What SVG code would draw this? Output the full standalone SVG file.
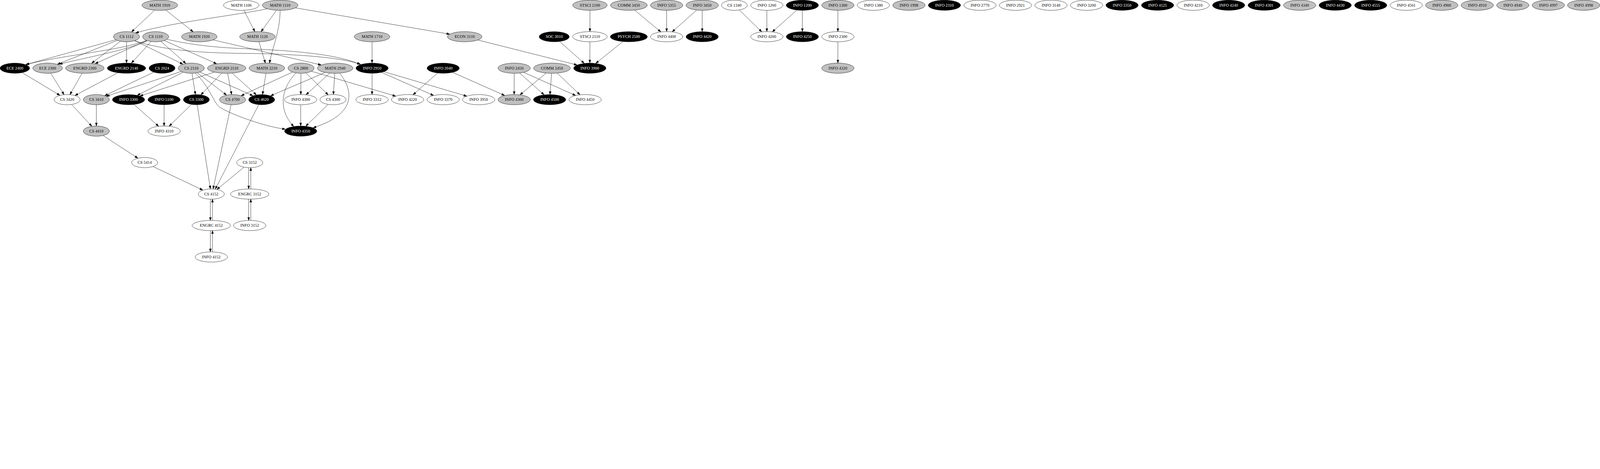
<svg xmlns="http://www.w3.org/2000/svg" width="7327" height="1200" viewBox="0 0 7327 1200" style="max-width:100vw;height:auto">
<defs>
<style>
.n ellipse{stroke:#000;stroke-width:1.33}
.g ellipse{fill:#c0c0c0}
.b ellipse{fill:#000}
.w ellipse{fill:#fff}
.n text{font-family:"Liberation Serif","Times New Roman",serif;font-size:18.67px;text-anchor:middle;fill:#000}
.b text{fill:#fff}
#edges path{fill:none;stroke:#000;stroke-width:1.33;marker-end:url(#ah)}
</style>
<marker id="ah" markerUnits="userSpaceOnUse" markerWidth="14" markerHeight="10" viewBox="0 0 14 10" refX="13.3" refY="4.67" orient="auto" overflow="visible">
<path d="M0,0 L13.3,4.67 L0,9.33 z" fill="#000" stroke="#000" stroke-width="1.33"/>
</marker>
</defs>
<rect width="7327" height="1200" fill="#fff"/>
<g id="edges">
<path d="M707.5,46.9 L602.8,145.9"/>
<path d="M760,46.5 L884.3,145.5"/>
<path d="M1223,40.5 C1080,70 800,100 621,150.5"/>
<path d="M1265.8,47.5 L1195.9,144.5"/>
<path d="M1117.2,47.7 L1166.8,144.3"/>
<path d="M1282.7,48 C1282,150 1245,220 1234.5,288.5"/>
<path d="M1353.3,36 L2059.1,156.3"/>
<path d="M1186.1,191.9 L1214.9,288.1"/>
<path d="M976.7,182.8 L1470.6,297.2"/>
<path d="M1703.8,192 L1703.8,288"/>
<path d="M2188.9,183.3 L2642.6,297.4"/>
<path d="M530.6,181.7 L117,296"/>
<path d="M537,184.9 L263,294.1"/>
<path d="M551.3,189.2 L420,289"/>
<path d="M579.4,192 L579.4,288"/>
<path d="M617.4,186.5 L837.5,293.5"/>
<path d="M617.3,186.5 C720,222 880,242 1100,244 C1350,246 1560,262 1651,294"/>
<path d="M670,185 C560,230 300,250 120,295"/>
<path d="M673,187.5 C580,230 400,262 272,293.5"/>
<path d="M672.7,185.8 L436,291"/>
<path d="M691.9,190.5 L602,288.5"/>
<path d="M737.4,189.8 L850.8,290.2"/>
<path d="M752.8,185.8 L991.8,291.6"/>
<path d="M765,180 C900,210 1000,218 1150,224 C1400,234 1560,255 1649,295"/>
<path d="M101.9,332.7 L274.1,436.1"/>
<path d="M232.5,335.4 L292.9,432.7"/>
<path d="M375.2,335.7 L320.5,432.6"/>
<path d="M539.1,333.3 L343.4,436.9"/>
<path d="M703.6,330.4 L479.6,437.6"/>
<path d="M829.5,327.3 L487.2,440.7"/>
<path d="M838.2,330.7 L628.7,435.9"/>
<path d="M981,330.3 L641.1,439.2"/>
<path d="M879.3,336 L894.8,432"/>
<path d="M1015.5,335.2 L920.2,433.6"/>
<path d="M903.4,333.2 L1037.1,434.8"/>
<path d="M1042.5,336 L1060.5,432.1"/>
<path d="M915.4,329.8 L1158.3,438.2"/>
<path d="M1063.6,335 L1173.8,434.1"/>
<path d="M1218,336 L1202.2,432.1"/>
<path d="M1339.3,330 L1104.3,438"/>
<path d="M1488.5,331.8 L1239.1,438.5"/>
<path d="M1378,336 L1377.5,432"/>
<path d="M1401.2,334.2 L1502.4,433.8"/>
<path d="M1426.6,326.2 L1811.8,439.9"/>
<path d="M1509.7,334.8 L1401.6,433.4"/>
<path d="M1533.1,336 L1526.6,432"/>
<path d="M1355,334.5 C1290,400 1270,500 1345,578.5"/>
<path d="M1556,335.7 C1615,410 1640,520 1434,584.5"/>
<path d="M894,335 C955,390 975,460 1000,485 C1025,510 1200,578 1306.5,591"/>
<path d="M1377,480 L1377,576"/>
<path d="M1502.2,478.2 L1400.2,577.2"/>
<path d="M1703.8,336 L1703.8,432"/>
<path d="M1747.6,331.3 L1985.4,436.7"/>
<path d="M1758.5,328.1 L2137.2,439.9"/>
<path d="M2003.6,334.5 L1891.7,433.5"/>
<path d="M2072.7,331.3 L2310.9,436.7"/>
<path d="M328.2,478.5 L420.3,577.5"/>
<path d="M441.2,480 L441.2,576"/>
<path d="M614.1,478.5 L726,577.5"/>
<path d="M751.4,480 L751.4,576"/>
<path d="M875.9,478.2 L774.8,577.2"/>
<path d="M472.6,620.4 L631,723.6"/>
<path d="M701.1,762.3 L928.6,869.7"/>
<path d="M903,480 L963.5,864"/>
<path d="M1058,479.6 L976,864.3"/>
<path d="M1184,480.8 L986,865"/>
<path d="M1117,765.5 L993.6,866.5"/>
<path d="M963.4,911.8 L963.4,1008.2"/>
<path d="M973,1008.2 L973,911.8"/>
<path d="M963.4,1055.8 L963.4,1152.2"/>
<path d="M973,1152.2 L973,1055.8"/>
<path d="M1138.8,767.8 L1138.8,864.2"/>
<path d="M1148.4,864.2 L1148.4,767.8"/>
<path d="M1138.8,911.8 L1138.8,1008.2"/>
<path d="M1148.4,1008.2 L1148.4,911.8"/>
<path d="M2701.5,48 L2701.5,144"/>
<path d="M2907,46.7 L3025.9,145.7"/>
<path d="M3052.8,48 L3052.8,144"/>
<path d="M3190.1,46.5 L3078.3,145.5"/>
<path d="M3215.6,48 L3215.6,144"/>
<path d="M2563.3,190.3 L2675.3,289.5"/>
<path d="M2701.5,192 L2701,288"/>
<path d="M2851.6,190.7 L2728.4,289.8"/>
<path d="M2354.6,336 L2354.6,432"/>
<path d="M2380,334.5 L2491.3,433.5"/>
<path d="M2398.2,331.3 L2635.9,436.7"/>
<path d="M2500.4,334.7 L2381.5,433.7"/>
<path d="M2525.9,336 L2518.5,432"/>
<path d="M2551.9,335 L2655.6,433.3"/>
<path d="M3385.8,46.1 L3488.2,145.3"/>
<path d="M3511.7,48 L3511.7,144"/>
<path d="M3648.9,46.5 L3537.1,145.5"/>
<path d="M3674.3,48 L3674.3,144"/>
<path d="M3837,48 L3837,144"/>
<path d="M3837,192 L3837,288"/>
</g>
<g id="n-math1910" class="n g"><ellipse cx="731.7" cy="24" rx="81.5" ry="23.3"/><text x="731.7" y="30">MATH 1910</text></g>
<g id="n-math1106" class="n w"><ellipse cx="1105" cy="24" rx="81.5" ry="23.3"/><text x="1105" y="30">MATH 1106</text></g>
<g id="n-math1110" class="n g"><ellipse cx="1282.7" cy="24" rx="81.5" ry="23.3"/><text x="1282.7" y="30">MATH 1110</text></g>
<g id="n-stsci2100" class="n g"><ellipse cx="2701.5" cy="24" rx="79" ry="23.3"/><text x="2701.5" y="30">STSCI 2100</text></g>
<g id="n-comm3450" class="n g"><ellipse cx="2879.7" cy="24" rx="84.3" ry="23.3"/><text x="2879.7" y="30">COMM 3450</text></g>
<g id="n-info5355" class="n g"><ellipse cx="3052.8" cy="24" rx="74" ry="23.3"/><text x="3052.8" y="30">INFO 5355</text></g>
<g id="n-info3450" class="n g"><ellipse cx="3215.6" cy="24" rx="74" ry="23.3"/><text x="3215.6" y="30">INFO 3450</text></g>
<g id="n-cs1340" class="n w"><ellipse cx="3363" cy="24" rx="59" ry="23.3"/><text x="3363" y="30">CS 1340</text></g>
<g id="n-info1260" class="n w"><ellipse cx="3511.7" cy="24" rx="74" ry="23.3"/><text x="3511.7" y="30">INFO 1260</text></g>
<g id="n-info1200" class="n b"><ellipse cx="3674.3" cy="24" rx="74" ry="23.3"/><text x="3674.3" y="30">INFO 1200</text></g>
<g id="n-info1300" class="n g"><ellipse cx="3837" cy="24" rx="74" ry="23.3"/><text x="3837" y="30">INFO 1300</text></g>
<g id="n-info1380" class="n w"><ellipse cx="3999.7" cy="24" rx="74" ry="23.3"/><text x="3999.7" y="30">INFO 1380</text></g>
<g id="n-info1998" class="n g"><ellipse cx="4162.3" cy="24" rx="74" ry="23.3"/><text x="4162.3" y="30">INFO 1998</text></g>
<g id="n-info2310" class="n b"><ellipse cx="4325" cy="24" rx="74" ry="23.3"/><text x="4325" y="30">INFO 2310</text></g>
<g id="n-info2770" class="n w"><ellipse cx="4487.7" cy="24" rx="74" ry="23.3"/><text x="4487.7" y="30">INFO 2770</text></g>
<g id="n-info2921" class="n w"><ellipse cx="4650.3" cy="24" rx="74" ry="23.3"/><text x="4650.3" y="30">INFO 2921</text></g>
<g id="n-info3140" class="n w"><ellipse cx="4813" cy="24" rx="74" ry="23.3"/><text x="4813" y="30">INFO 3140</text></g>
<g id="n-info3200" class="n w"><ellipse cx="4975.7" cy="24" rx="74" ry="23.3"/><text x="4975.7" y="30">INFO 3200</text></g>
<g id="n-info3350" class="n b"><ellipse cx="5138.4" cy="24" rx="74" ry="23.3"/><text x="5138.4" y="30">INFO 3350</text></g>
<g id="n-info4125" class="n b"><ellipse cx="5301" cy="24" rx="74" ry="23.3"/><text x="5301" y="30">INFO 4125</text></g>
<g id="n-info4210" class="n w"><ellipse cx="5463.7" cy="24" rx="74" ry="23.3"/><text x="5463.7" y="30">INFO 4210</text></g>
<g id="n-info4240" class="n b"><ellipse cx="5626.4" cy="24" rx="74" ry="23.3"/><text x="5626.4" y="30">INFO 4240</text></g>
<g id="n-info4301" class="n b"><ellipse cx="5789" cy="24" rx="74" ry="23.3"/><text x="5789" y="30">INFO 4301</text></g>
<g id="n-info4340" class="n g"><ellipse cx="5951.7" cy="24" rx="74" ry="23.3"/><text x="5951.7" y="30">INFO 4340</text></g>
<g id="n-info4430" class="n b"><ellipse cx="6114.4" cy="24" rx="74" ry="23.3"/><text x="6114.4" y="30">INFO 4430</text></g>
<g id="n-info4555" class="n b"><ellipse cx="6277" cy="24" rx="74" ry="23.3"/><text x="6277" y="30">INFO 4555</text></g>
<g id="n-info4561" class="n w"><ellipse cx="6439.7" cy="24" rx="74" ry="23.3"/><text x="6439.7" y="30">INFO 4561</text></g>
<g id="n-info4900" class="n g"><ellipse cx="6602.4" cy="24" rx="74" ry="23.3"/><text x="6602.4" y="30">INFO 4900</text></g>
<g id="n-info4910" class="n g"><ellipse cx="6765" cy="24" rx="74" ry="23.3"/><text x="6765" y="30">INFO 4910</text></g>
<g id="n-info4940" class="n g"><ellipse cx="6927.7" cy="24" rx="74" ry="23.3"/><text x="6927.7" y="30">INFO 4940</text></g>
<g id="n-info4997" class="n g"><ellipse cx="7090.4" cy="24" rx="74" ry="23.3"/><text x="7090.4" y="30">INFO 4997</text></g>
<g id="n-info4998" class="n g"><ellipse cx="7252.3" cy="24" rx="74" ry="23.3"/><text x="7252.3" y="30">INFO 4998</text></g>
<g id="n-cs1112" class="n g"><ellipse cx="579.4" cy="168" rx="59.6" ry="23.3"/><text x="579.4" y="174">CS 1112</text></g>
<g id="n-cs1110" class="n g"><ellipse cx="712.7" cy="168" rx="59.6" ry="23.3"/><text x="712.7" y="174">CS 1110</text></g>
<g id="n-math1920" class="n g"><ellipse cx="912.6" cy="168" rx="81.5" ry="23.3"/><text x="912.6" y="174">MATH 1920</text></g>
<g id="n-math1120" class="n g"><ellipse cx="1179" cy="168" rx="81.5" ry="23.3"/><text x="1179" y="174">MATH 1120</text></g>
<g id="n-math1710" class="n g"><ellipse cx="1703.8" cy="168" rx="81.5" ry="23.3"/><text x="1703.8" y="174">MATH 1710</text></g>
<g id="n-econ3110" class="n g"><ellipse cx="2128" cy="168" rx="79" ry="23.3"/><text x="2128" y="174">ECON 3110</text></g>
<g id="n-soc3010" class="n b"><ellipse cx="2538" cy="168" rx="69" ry="23.3"/><text x="2538" y="174">SOC 3010</text></g>
<g id="n-stsci2110" class="n w"><ellipse cx="2701.5" cy="168" rx="79" ry="23.3"/><text x="2701.5" y="174">STSCI 2110</text></g>
<g id="n-psych2500" class="n b"><ellipse cx="2879.7" cy="168" rx="85" ry="23.3"/><text x="2879.7" y="174">PSYCH 2500</text></g>
<g id="n-info4400" class="n w"><ellipse cx="3052.8" cy="168" rx="74" ry="23.3"/><text x="3052.8" y="174">INFO 4400</text></g>
<g id="n-info4420" class="n b"><ellipse cx="3215.6" cy="168" rx="74" ry="23.3"/><text x="3215.6" y="174">INFO 4420</text></g>
<g id="n-info4260" class="n w"><ellipse cx="3511.7" cy="168" rx="74" ry="23.3"/><text x="3511.7" y="174">INFO 4260</text></g>
<g id="n-info4250" class="n b"><ellipse cx="3674.3" cy="168" rx="74" ry="23.3"/><text x="3674.3" y="174">INFO 4250</text></g>
<g id="n-info2300" class="n w"><ellipse cx="3837" cy="168" rx="74" ry="23.3"/><text x="3837" y="174">INFO 2300</text></g>
<g id="n-ece2400" class="n b"><ellipse cx="68" cy="312" rx="67.7" ry="23.3"/><text x="68" y="318">ECE 2400</text></g>
<g id="n-ece2300" class="n g"><ellipse cx="218" cy="312" rx="67.7" ry="23.3"/><text x="218" y="318">ECE 2300</text></g>
<g id="n-engrd2300" class="n g"><ellipse cx="388.6" cy="312" rx="88" ry="23.3"/><text x="388.6" y="318">ENGRD 2300</text></g>
<g id="n-engrd2140" class="n b"><ellipse cx="579.4" cy="312" rx="88" ry="23.3"/><text x="579.4" y="318">ENGRD 2140</text></g>
<g id="n-cs2024" class="n b"><ellipse cx="742" cy="312" rx="59.6" ry="23.3"/><text x="742" y="318">CS 2024</text></g>
<g id="n-cs2110" class="n g"><ellipse cx="876" cy="312" rx="59.6" ry="23.3"/><text x="876" y="318">CS 2110</text></g>
<g id="n-engrd2110" class="n g"><ellipse cx="1038.2" cy="312" rx="88" ry="23.3"/><text x="1038.2" y="318">ENGRD 2110</text></g>
<g id="n-math2210" class="n g"><ellipse cx="1222.2" cy="312" rx="81.5" ry="23.3"/><text x="1222.2" y="318">MATH 2210</text></g>
<g id="n-cs2800" class="n g"><ellipse cx="1378.6" cy="312" rx="59.6" ry="23.3"/><text x="1378.6" y="318">CS 2800</text></g>
<g id="n-math2940" class="n g"><ellipse cx="1534.7" cy="312" rx="81.5" ry="23.3"/><text x="1534.7" y="318">MATH 2940</text></g>
<g id="n-info2950" class="n b"><ellipse cx="1704" cy="312" rx="74" ry="23.3"/><text x="1704" y="318">INFO 2950</text></g>
<g id="n-info2040" class="n b"><ellipse cx="2029.5" cy="312" rx="74" ry="23.3"/><text x="2029.5" y="318">INFO 2040</text></g>
<g id="n-info2450" class="n g"><ellipse cx="2354.6" cy="312" rx="74" ry="23.3"/><text x="2354.6" y="318">INFO 2450</text></g>
<g id="n-comm2450" class="n g"><ellipse cx="2527.7" cy="312" rx="84.3" ry="23.3"/><text x="2527.7" y="318">COMM 2450</text></g>
<g id="n-info3900" class="n b"><ellipse cx="2701" cy="312" rx="74" ry="23.3"/><text x="2701" y="318">INFO 3900</text></g>
<g id="n-info4320" class="n g"><ellipse cx="3837" cy="312" rx="74" ry="23.3"/><text x="3837" y="318">INFO 4320</text></g>
<g id="n-cs3420" class="n w"><ellipse cx="307.3" cy="456" rx="59.6" ry="23.3"/><text x="307.3" y="462">CS 3420</text></g>
<g id="n-cs3410" class="n g"><ellipse cx="441.2" cy="456" rx="59.6" ry="23.3"/><text x="441.2" y="462">CS 3410</text></g>
<g id="n-info3300" class="n b"><ellipse cx="588.6" cy="456" rx="74" ry="23.3"/><text x="588.6" y="462">INFO 3300</text></g>
<g id="n-info5100" class="n b"><ellipse cx="751.3" cy="456" rx="74" ry="23.3"/><text x="751.3" y="462">INFO 5100</text></g>
<g id="n-cs3300" class="n b"><ellipse cx="899.3" cy="456" rx="59.6" ry="23.3"/><text x="899.3" y="462">CS 3300</text></g>
<g id="n-cs4700" class="n g"><ellipse cx="1065" cy="456" rx="59.6" ry="23.3"/><text x="1065" y="462">CS 4700</text></g>
<g id="n-cs4620" class="n b"><ellipse cx="1198.3" cy="456" rx="59.6" ry="23.3"/><text x="1198.3" y="462">CS 4620</text></g>
<g id="n-info4300" class="n w"><ellipse cx="1377" cy="456" rx="74" ry="23.3"/><text x="1377" y="462">INFO 4300</text></g>
<g id="n-cs4300" class="n w"><ellipse cx="1525" cy="456" rx="59.6" ry="23.3"/><text x="1525" y="462">CS 4300</text></g>
<g id="n-info3312" class="n w"><ellipse cx="1703.8" cy="456" rx="74" ry="23.3"/><text x="1703.8" y="462">INFO 3312</text></g>
<g id="n-info4220" class="n w"><ellipse cx="1866.4" cy="456" rx="74" ry="23.3"/><text x="1866.4" y="462">INFO 4220</text></g>
<g id="n-info3370" class="n w"><ellipse cx="2029.3" cy="456" rx="74" ry="23.3"/><text x="2029.3" y="462">INFO 3370</text></g>
<g id="n-info3950" class="n w"><ellipse cx="2191.9" cy="456" rx="74" ry="23.3"/><text x="2191.9" y="462">INFO 3950</text></g>
<g id="n-info4360" class="n g"><ellipse cx="2354.6" cy="456" rx="74" ry="23.3"/><text x="2354.6" y="462">INFO 4360</text></g>
<g id="n-info4500" class="n b"><ellipse cx="2516.9" cy="456" rx="74" ry="23.3"/><text x="2516.9" y="462">INFO 4500</text></g>
<g id="n-info4450" class="n w"><ellipse cx="2679.5" cy="456" rx="74" ry="23.3"/><text x="2679.5" y="462">INFO 4450</text></g>
<g id="n-cs4410" class="n g"><ellipse cx="441.2" cy="600" rx="59.6" ry="23.3"/><text x="441.2" y="606">CS 4410</text></g>
<g id="n-info4310" class="n w"><ellipse cx="751.5" cy="600" rx="74" ry="23.3"/><text x="751.5" y="606">INFO 4310</text></g>
<g id="n-info4350" class="n b"><ellipse cx="1377" cy="600" rx="74" ry="23.3"/><text x="1377" y="606">INFO 4350</text></g>
<g id="n-cs5414" class="n w"><ellipse cx="662.4" cy="744" rx="59.6" ry="23.3"/><text x="662.4" y="750">CS 5414</text></g>
<g id="n-cs3152" class="n w"><ellipse cx="1143.5" cy="744" rx="59.6" ry="23.3"/><text x="1143.5" y="750">CS 3152</text></g>
<g id="n-cs4152" class="n w"><ellipse cx="967.5" cy="888" rx="59.6" ry="23.3"/><text x="967.5" y="894">CS 4152</text></g>
<g id="n-engrc3152" class="n w"><ellipse cx="1143.5" cy="888" rx="88" ry="23.3"/><text x="1143.5" y="894">ENGRC 3152</text></g>
<g id="n-engrc4152" class="n w"><ellipse cx="967.5" cy="1032" rx="88" ry="23.3"/><text x="967.5" y="1038">ENGRC 4152</text></g>
<g id="n-info3152" class="n w"><ellipse cx="1143.5" cy="1032" rx="74" ry="23.3"/><text x="1143.5" y="1038">INFO 3152</text></g>
<g id="n-info4152" class="n w"><ellipse cx="967.5" cy="1176" rx="74" ry="23.3"/><text x="967.5" y="1182">INFO 4152</text></g>
</svg>
